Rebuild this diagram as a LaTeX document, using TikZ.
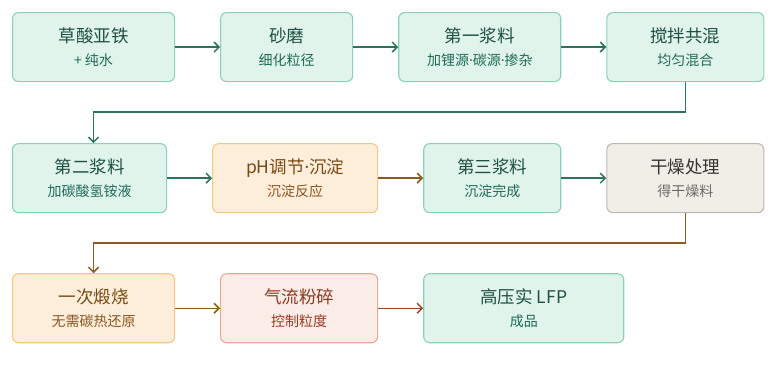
\documentclass[tikz,border=0pt]{standalone}
\usepackage{fontspec}
\setmainfont{Noto Sans CJK SC}
\newfontfamily\latinfont{Noto Sans}
\usetikzlibrary{arrows.meta,positioning}
\definecolor{greenFill}{HTML}{E1F4EC}
\definecolor{greenLine}{HTML}{8CD1B4}
\definecolor{greenText}{HTML}{1F4F43}
\definecolor{greenSub}{HTML}{1E6B58}
\definecolor{greenArrow}{HTML}{2A7460}
\definecolor{orangeFill}{HTML}{FCEEDA}
\definecolor{orangeLine}{HTML}{F5C882}
\definecolor{orangeText}{HTML}{7A4A14}
\definecolor{orangeSub}{HTML}{8A5520}
\definecolor{brownArrow}{HTML}{8B5A1E}
\definecolor{grayFill}{HTML}{F1EEE8}
\definecolor{grayLine}{HTML}{BDB9B1}
\definecolor{grayText}{HTML}{333333}
\definecolor{graySub}{HTML}{6B6B6B}
\definecolor{redFill}{HTML}{FAECE7}
\definecolor{redLine}{HTML}{EBA898}
\definecolor{redText}{HTML}{8C3A22}
\definecolor{redSub}{HTML}{9A3A20}
\definecolor{redArrow}{HTML}{A0402A}
\newcommand{\subln}[2]{{\color{#1}\fontsize{14pt}{16pt}\selectfont #2}}
\newcommand{\dotsep}{{\latinfont ·}}

\begin{document}
\begin{tikzpicture}[
  x=1pt, y=1pt,
  font=\fontsize{17.5pt}{20pt}\selectfont,
  box/.style={
    rectangle, rounded corners=6pt,
    draw, line width=1.1pt,
    minimum height=69pt, align=center,
    inner sep=4pt
  },
  greenbox/.style={box, fill=greenFill, draw=greenLine, text=greenText},
  orangebox/.style={box, fill=orangeFill, draw=orangeLine, text=orangeText},
  graybox/.style={box, fill=grayFill, draw=grayLine, text=grayText},
  redbox/.style={box, fill=redFill, draw=redLine, text=redText},
  flow/.style={-{Straight Barb[length=5pt,width=10pt]}, line width=1.5pt},
  greenflow/.style={flow, draw=greenArrow},
  brownflow/.style={flow, draw=brownArrow},
  redflow/.style={flow, draw=redArrow}
]
\useasboundingbox (0,0) rectangle (776,-364);

%  Row 1 
\node[greenbox, minimum width=162pt, anchor=north west] (ferrous) at (12,-12)
  {草酸亚铁\\[3pt]\subln{greenSub}{+ 纯水}};
\node[greenbox, minimum width=132pt, right=45pt of ferrous] (mill)
  {砂磨\\[3pt]\subln{greenSub}{细化粒径}};
\node[greenbox, minimum width=162pt, right=45pt of mill] (slurryA)
  {第一浆料\\[3pt]\subln{greenSub}{加锂源\dotsep 碳源\dotsep 掺杂}};
\node[greenbox, minimum width=157pt, right=45pt of slurryA] (stir)
  {搅拌共混\\[3pt]\subln{greenSub}{均匀混合}};

%  Row 2 
\node[greenbox, minimum width=154pt, below=61pt of ferrous.south west, anchor=north west] (slurryB)
  {第二浆料\\[3pt]\subln{greenSub}{加碳酸氢铵液}};
\node[orangebox, minimum width=165pt, right=45pt of slurryB] (ph)
  {pH调节\dotsep 沉淀\\[3pt]\subln{orangeSub}{沉淀反应}};
\node[greenbox, minimum width=137pt, right=45pt of ph] (slurryC)
  {第三浆料\\[3pt]\subln{greenSub}{沉淀完成}};
\node[graybox, minimum width=157pt, right=45pt of slurryC] (dry)
  {干燥处理\\[3pt]\subln{graySub}{得干燥料}};

%  Row 3 
\node[orangebox, minimum width=162pt, below=60pt of slurryB.south west, anchor=north west] (calcine)
  {一次煅烧\\[3pt]\subln{orangeSub}{无需碳热还原}};
\node[redbox, minimum width=157pt, right=45pt of calcine] (jetmill)
  {气流粉碎\\[3pt]\subln{redSub}{控制粒度}};
\node[greenbox, minimum width=200pt, right=45pt of jetmill] (lfp)
  {高压实 LFP\\[3pt]\subln{greenSub}{成品}};

%  Flow arrows 
\draw[greenflow] (ferrous) -- (mill);
\draw[greenflow] (mill) -- (slurryA);
\draw[greenflow] (slurryA) -- (stir);
\draw[greenflow] (stir.south) -- ++(0,-30) -| ([xshift=4pt]slurryB.north);
\draw[greenflow] (slurryB) -- (ph);
\draw[brownflow] (ph) -- (slurryC);
\draw[greenflow] (slurryC) -- (dry);
\draw[brownflow] (dry.south) -- ++(0,-30) -| (calcine.north);
\draw[brownflow] (calcine) -- (jetmill);
\draw[redflow] (jetmill) -- (lfp);

\end{tikzpicture}
\end{document}
